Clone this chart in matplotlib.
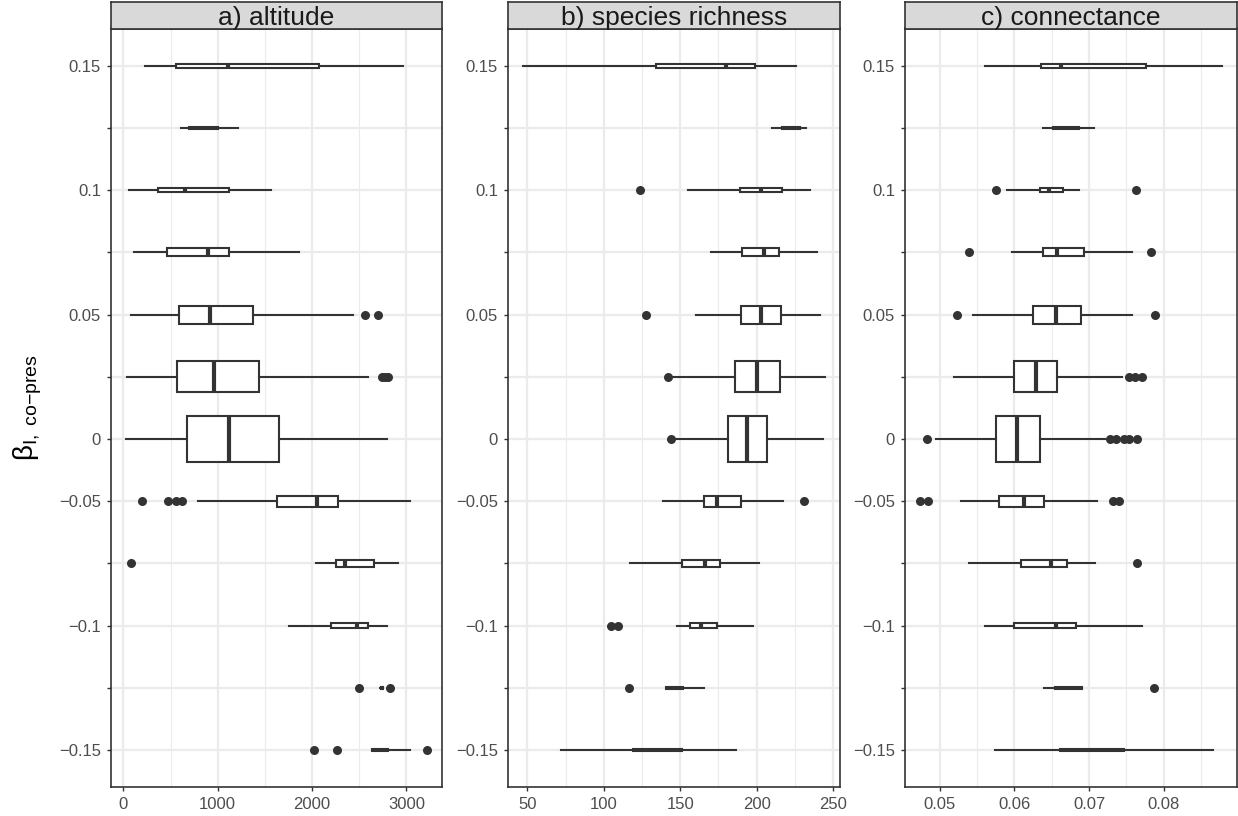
import numpy as np
import matplotlib.pyplot as plt

plt.rcParams['font.family'] = ['Liberation Sans', 'DejaVu Sans']
plt.rcParams['mathtext.fontset'] = 'custom'
plt.rcParams['mathtext.rm'] = 'Liberation Sans'
plt.rcParams['mathtext.it'] = 'Liberation Sans:italic'

# beta levels, bottom to top
levels = ['-0.15', '-0.125', '-0.1', '-0.075', '-0.05', '0',
          '0.025', '0.05', '0.075', '0.1', '0.125', '0.15']
level_labels = ['\u22120.15', '', '\u22120.1', '', '\u22120.05', '0',
                '', '0.05', '', '0.1', '', '0.15']
# number of simulations per level (drives box heights, varwidth)
n_obs = [4, 3, 14, 24, 57, 1000, 465, 160, 32, 8, 3, 7]

panel_titles = ['a) altitude', 'b) species richness', 'c) connectance']

# box statistics per level, bottom to top
alt_whislo = [2633, 2725, 1755, 2039, 790, 25, 35, 81, 113, 63, 615, 230]
alt_q1 = [2634, 2730, 2200, 2257, 1632, 678, 569, 587, 463, 369, 695, 555]
alt_med = [2712, 2740, 2478, 2345, 2057, 1123, 965, 923, 899, 650, 790, 1105]
alt_q3 = [2810, 2750, 2590, 2660, 2275, 1650, 1436, 1376, 1117, 1117, 1000, 2078]
alt_whishi = [3036, 2755, 2797, 2909, 3037, 2794, 2597, 2438, 1860, 1563, 1211, 2966]
alt_fliers = [[2018, 2261, 3215], [2500, 2825], [], [77], [193, 474, 555, 621],
              [], [2737, 2770, 2800], [2562, 2696], [], [], [], []]

sr_whislo = [72, 140.8, 148, 117.1, 138.9, 146.5, 145.4, 160.2, 170, 155.2, 210.3, 47]
sr_q1 = [118.9, 140.8, 156.7, 150.9, 165.6, 181.6, 185.7, 189.6, 190.5, 189, 216.6, 134]
sr_med = [140, 145.4, 163.9, 166.1, 174.4, 193.8, 200.3, 202.7, 204.6, 202.7, 223.4, 179.8]
sr_q3 = [151, 152, 174, 175.9, 190, 207, 215.1, 216, 214.6, 216.8, 228.6, 199]
sr_whishi = [186.3, 165.6, 197.6, 201.6, 217.5, 243.6, 244.7, 241.7, 239.7, 234.7, 232.5, 225.5]
sr_fliers = [[], [116.6], [104.5, 109], [], [231], [143.7], [141.7], [127.3],
             [], [123.6], [], []]

con_whislo = [0.0574, 0.06394, 0.0560, 0.05387, 0.05285, 0.04956, 0.05192,
              0.05446, 0.05967, 0.0590, 0.06385, 0.0560]
con_q1 = [0.06611, 0.06549, 0.05988, 0.06091, 0.05797, 0.05757, 0.05988,
          0.06255, 0.0638, 0.06344, 0.06514, 0.06362]
con_med = [0.06709, 0.0661, 0.06558, 0.06491, 0.06127, 0.06037, 0.06287,
           0.06554, 0.06575, 0.0646, 0.06682, 0.06621]
con_q3 = [0.0747, 0.06905, 0.06821, 0.067, 0.06398, 0.0634, 0.06575,
          0.06888, 0.06936, 0.06655, 0.06869, 0.07764]
con_whishi = [0.08659, 0.06905, 0.07706, 0.07079, 0.07101, 0.07217, 0.07443,
              0.07569, 0.07577, 0.06861, 0.07065, 0.08778]
con_fliers = [[], [0.07866], [], [0.07635], [0.04733, 0.04845, 0.07323, 0.07403],
              [0.04826, 0.07279, 0.07359, 0.07466, 0.07537, 0.07644],
              [0.07533, 0.07613, 0.07702], [0.05227, 0.07876],
              [0.05392, 0.07826], [0.05757, 0.07622], [], []]

x_ticks = [[0, 1000, 2000, 3000], [50, 100, 150, 200, 250], [0.05, 0.06, 0.07, 0.08]]
x_minor = [[500, 1500, 2500], [75, 125, 175, 225], [0.055, 0.065, 0.075, 0.085]]
x_ticklabels = [['0', '1000', '2000', '3000'], ['50', '100', '150', '200', '250'],
                ['0.05', '0.06', '0.07', '0.08']]

panels = [
    (alt_whislo, alt_q1, alt_med, alt_q3, alt_whishi, alt_fliers),
    (sr_whislo, sr_q1, sr_med, sr_q3, sr_whishi, sr_fliers),
    (con_whislo, con_q1, con_med, con_q3, con_whishi, con_fliers),
]

W, H = 1238, 816
fig = plt.figure(figsize=(W / 100, H / 100), dpi=100)

# panel extents in pixels (left, right)
panel_px = [(110.7, 441.7), (507.7, 840.0), (904.7, 1237.0)]
top_px, bottom_px, strip_top_px = 28.5, 787.3, 2.0

dark = '#333333'
grid_col = '#EBEBEB'
pos = np.arange(1, len(levels) + 1)
widths = 0.73 * np.sqrt(np.array(n_obs) / max(n_obs))

for k, (lo, q1, med, q3, hi, fl) in enumerate(panels):
    l, r = panel_px[k]
    ax = fig.add_axes([l / W, 1 - bottom_px / H, (r - l) / W, (bottom_px - top_px) / H])
    stats = []
    for i in range(len(levels)):
        stats.append(dict(whislo=lo[i], q1=q1[i], med=med[i], q3=q3[i],
                          whishi=hi[i], fliers=fl[i]))
    ax.bxp(stats, positions=pos, widths=widths, orientation='horizontal',
           patch_artist=True, showcaps=False,
           boxprops=dict(facecolor='white', edgecolor=dark, linewidth=1.5),
           medianprops=dict(color=dark, linewidth=3.0, solid_capstyle='butt'),
           whiskerprops=dict(color=dark, linewidth=1.5),
           flierprops=dict(marker='o', markerfacecolor=dark, markeredgecolor='none',
                           markersize=6.5))

    allv = np.concatenate([lo, hi] + [np.array(f, dtype=float) for f in fl if f])
    vmin, vmax = allv.min(), allv.max()
    pad = 0.05 * (vmax - vmin)
    ax.set_xlim(vmin - pad, vmax + pad)
    ax.set_ylim(0.4, len(levels) + 0.6)

    ax.set_xticks(x_ticks[k])
    ax.set_xticklabels(x_ticklabels[k])
    ax.set_xticks(x_minor[k], minor=True)
    ax.set_yticks(pos)
    ax.set_yticklabels(level_labels)

    ax.grid(True, which='major', color=grid_col, linewidth=1.6)
    ax.grid(True, which='minor', axis='x', color=grid_col, linewidth=0.8)
    ax.set_axisbelow(True)
    ax.tick_params(which='major', length=2.9, width=1.0, color=dark, pad=4,
                   labelsize=12, labelcolor='#4D4D4D')
    ax.tick_params(which='minor', length=0)
    for s in ax.spines.values():
        s.set_color(dark)
        s.set_linewidth(1.2)

    # facet strip
    sax = fig.add_axes([l / W, 1 - top_px / H, (r - l) / W, (top_px - strip_top_px) / H])
    sax.set_facecolor('#D9D9D9')
    sax.set_xticks([])
    sax.set_yticks([])
    for s in sax.spines.values():
        s.set_color(dark)
        s.set_linewidth(1.2)
    sax.text(0.5, 0.13, panel_titles[k], transform=sax.transAxes, ha='center',
             va='baseline', fontsize=19, color='#1A1A1A')

fig.text(28 / W, 1 - 408 / H, r'$\mathrm{\beta}_{\mathrm{I,\ co{-}pres}}$',
         rotation=90, ha='center', va='center', fontsize=20, color='black')

fig.savefig('out.png', dpi=100)
